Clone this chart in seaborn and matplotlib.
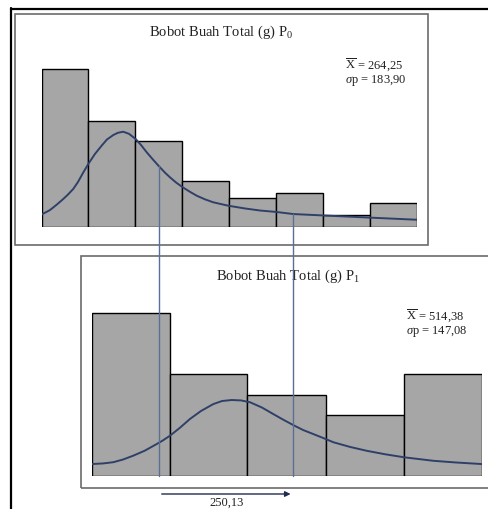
import numpy as np
import pandas as pd
import seaborn as sns
import matplotlib
matplotlib.use("Agg")
import matplotlib.pyplot as plt
from matplotlib.patches import Rectangle, FancyArrowPatch
from matplotlib.lines import Line2D

# ---- data -------------------------------------------------------------
# P0: fruit weight histogram (g), bin edges and frequencies
p0_edges = [46, 133, 220, 308, 395, 482, 570, 657, 744]
p0_freq = [13.8, 9.3, 7.5, 4.0, 2.5, 3.0, 1.0, 2.05]
# P0 fitted density curve (g, scaled frequency)
p0_curve_x = [45.9, 61.4, 74.4, 86.1, 94.9, 104.7, 113.5, 122.8, 132.7, 145.1,
              157.6, 167.5, 179.2, 187.9, 197.8, 208.4, 220.9, 230.8, 241.4,
              253.1, 264.3, 275.5, 284.8, 296.0, 308.4, 322.0, 334.5, 349.9,
              365.4, 393.3, 424.4, 452.3, 483.4, 514.3, 564.0, 651.0, 744.1]
p0_curve_y = [1.07, 1.46, 1.95, 2.43, 2.82, 3.31, 3.92, 4.71, 5.50, 6.38,
              7.11, 7.65, 8.04, 8.24, 8.33, 8.15, 7.69, 7.17, 6.53,
              5.89, 5.30, 4.74, 4.33, 3.88, 3.46, 3.06, 2.72, 2.40,
              2.14, 1.84, 1.60, 1.42, 1.29, 1.11, 1.00, 0.81, 0.61]

# P1: fruit weight histogram (g)
p1_edges = [139, 284, 429, 575, 720, 865]
p1_freq = [8, 5, 4, 3, 5]
p1_curve_x = [138.8, 159.9, 179.0, 197.1, 216.3, 238.1, 259.9, 271.6, 284.7,
              303.3, 321.9, 342.4, 365.3, 381.5, 399.6, 416.9, 433.7, 456.0,
              477.1, 495.2, 514.3, 532.4, 551.6, 569.7, 588.8, 619.9, 651.1,
              685.2, 721.1, 775.1, 815.5, 865.3]
p1_curve_y = [0.60, 0.63, 0.69, 0.82, 1.01, 1.26, 1.58, 1.76, 1.99,
              2.38, 2.81, 3.20, 3.54, 3.69, 3.74, 3.72, 3.63, 3.37,
              3.05, 2.78, 2.51, 2.27, 2.07, 1.88, 1.67, 1.44, 1.25,
              1.08, 0.93, 0.76, 0.68, 0.60]

mean_p0, sd_p0 = 264.25, 183.90
mean_p1, sd_p1 = 514.38, 147.08
# height of the P0 curve where the two guide lines leave it
guide_top_y = [5.30, 1.11]

titles = ["Bobot Buah Total (g) P$_0$", "Bobot Buah Total (g) P$_1$"]

# ---- style --------------------------------------------------------------
sns.set_theme(style="white")
plt.rcParams["font.family"] = ["Liberation Serif", "DejaVu Serif"]
plt.rcParams["mathtext.fontset"] = "custom"
plt.rcParams["mathtext.rm"] = "Liberation Serif"
plt.rcParams["mathtext.it"] = "Liberation Serif:italic"
plt.rcParams["mathtext.bf"] = "Liberation Serif:bold"

W, H = 489, 510
fig = plt.figure(figsize=(W / 100, H / 100), dpi=100)
fig.patch.set_facecolor("white")


def px_axes(x0, x1, y_top, y_base):
    return fig.add_axes([x0 / W, 1 - y_base / H, (x1 - x0) / W, (y_base - y_top) / H])


def fig_xy(x, y):
    return (x / W, 1 - y / H)


BAR = "#a6a6a6"
CURVE = "#2f4068"
GUIDE = "#5b6f94"
TXT = "#222222"

# top histogram (P0)
ax0 = px_axes(41.7, 416.7, 40, 227.7)
centers0 = [(a + b) / 2 for a, b in zip(p0_edges[:-1], p0_edges[1:])]
sns.histplot(x=centers0, weights=p0_freq, bins=p0_edges, ax=ax0,
             color=BAR, edgecolor="black", linewidth=1.0, alpha=1)
sns.lineplot(x=p0_curve_x, y=p0_curve_y, ax=ax0, color=CURVE, linewidth=1.4,
             sort=True, solid_joinstyle="round", solid_capstyle="round")
ax0.set_xlim(p0_edges[0], p0_edges[-1])
ax0.set_ylim(0, (227.7 - 40) / 11.4)

# bottom histogram (P1)
ax1 = px_axes(91.7, 481.7, 300, 477.3)
centers1 = [(a + b) / 2 for a, b in zip(p1_edges[:-1], p1_edges[1:])]
sns.histplot(x=centers1, weights=p1_freq, bins=p1_edges, ax=ax1,
             color=BAR, edgecolor="black", linewidth=1.0, alpha=1)
sns.lineplot(x=p1_curve_x, y=p1_curve_y, ax=ax1, color=CURVE, linewidth=1.4,
             sort=True, solid_joinstyle="round", solid_capstyle="round")
ax1.set_xlim(p1_edges[0], p1_edges[-1])
ax1.set_ylim(0, (477.3 - 300) / 20.4)

for ax in (ax0, ax1):
    ax.set_axis_off()
    ax.patch.set_alpha(0)

# panel frames and outer border
fig.add_artist(Rectangle(fig_xy(14.7, 245.7), (428.3 - 14.7) / W, (245.7 - 14.8) / H,
                         transform=fig.transFigure, fill=False, ec="#6b6b6b", lw=1.2, zorder=0))
fig.add_artist(Rectangle(fig_xy(80.7, 488.7), (500 - 80.7) / W, (488.7 - 257.3) / H,
                         transform=fig.transFigure, fill=False, ec="#6b6b6b", lw=1.2, zorder=0))
fig.add_artist(Line2D([10.7 / W, 1], [1 - 9.9 / H] * 2, transform=fig.transFigure,
                      color="black", lw=1.6))
fig.add_artist(Line2D([11.5 / W] * 2, [1 - 9.2 / H, 0], transform=fig.transFigure,
                      color="black", lw=1.6))

# guide lines from the P0 curve down to the P1 baseline at both means
inv = fig.transFigure.inverted()
base_y = inv.transform(ax1.transData.transform((mean_p1, 0)))[1]
guide_x = [inv.transform(ax0.transData.transform((mean_p0, 0)))[0],
           inv.transform(ax1.transData.transform((mean_p1, 0)))[0]]
for gx, gy in zip(guide_x, guide_top_y):
    top_fig = inv.transform(ax0.transData.transform((0, gy)))[1]
    fig.add_artist(Line2D([gx, gx], [top_fig, base_y], transform=fig.transFigure,
                          color=GUIDE, lw=1.0, zorder=5))

# difference arrow and label
arrow_y = 1 - 495 / H
fig.add_artist(FancyArrowPatch((guide_x[0], arrow_y), (guide_x[1], arrow_y),
                               transform=fig.transFigure, arrowstyle="-|>",
                               mutation_scale=8, color="#1f2d4f", lw=1.0))
diff = f"{mean_p1 - mean_p0:.2f}".replace(".", ",")
fig.text((guide_x[0] + guide_x[1]) / 2, 1 - 503 / H, diff, ha="center",
         va="center", fontsize=9, color=TXT)

# titles
fig.text(221 / W, 1 - 32 / H, titles[0], ha="center", va="center", fontsize=10.5,
         color=TXT)
fig.text(288 / W, 1 - 276 / H, titles[1], ha="center", va="center", fontsize=10.5,
         color=TXT)


def fmt(v):
    return f"{v:.2f}".replace(".", ",")


def stats_label(mean, sd):
    return (r"$\overline{\mathrm{X}}$ = " + fmt(mean) + "\n"
            + r"$\sigma$p = " + fmt(sd))


# summary statistics
fig.text(345 / W, 1 - 72 / H, stats_label(mean_p0, sd_p0), ha="left",
         va="center", fontsize=9, color=TXT, linespacing=1.05)
fig.text(406 / W, 1 - 323 / H, stats_label(mean_p1, sd_p1), ha="left",
         va="center", fontsize=9, color=TXT, linespacing=1.05)

fig.savefig("out.png", dpi=100)
